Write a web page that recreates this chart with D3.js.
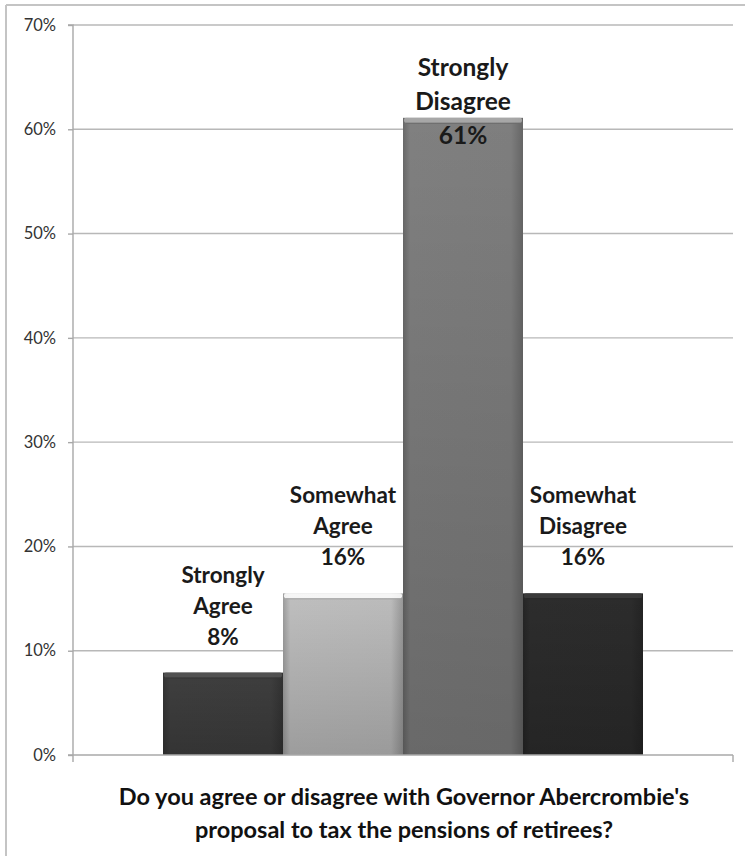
<!DOCTYPE html>
<html>
<head>
<meta charset="utf-8">
<script src="https://cdn.jsdelivr.net/npm/d3@7"></script>
<style>
  html, body { margin: 0; padding: 0; background: #fff; }
  svg { display: block; }
</style>
</head>
<body>
<svg id="chart" width="745" height="856"></svg>
<script>
// ---- data ----
const categories = ["Strongly Agree", "Somewhat Agree", "Strongly Disagree", "Somewhat Disagree"];
const labelLines = [["Strongly", "Agree"], ["Somewhat", "Agree"], ["Strongly", "Disagree"], ["Somewhat", "Disagree"]];
const values = [7.9, 15.5, 61.1, 15.5];
const valueLabels = ["8%", "16%", "61%", "16%"];
const yTicks = [0, 10, 20, 30, 40, 50, 60, 70];
const titleLines = ["Do you agree or disagree with Governor Abercrombie's", "proposal to tax the pensions of retirees?"];
const colors = ["#3e3e3e", "#bcbcbc", "#7e7e7e", "#2c2c2c"];

const svg = d3.select("#chart");
const plot = { left: 73, right: 733, top: 25, bottom: 755 };

const y = d3.scaleLinear().domain([0, 70]).range([plot.bottom, plot.top]);
const x = d3.scaleBand().domain(categories).range([163, 643]).padding(0);

// frame
svg.append("line").attr("x1", 6).attr("x2", 745).attr("y1", 5).attr("y2", 5)
  .attr("stroke", "#c4c4c4").attr("stroke-width", 2);
svg.append("line").attr("x1", 6).attr("x2", 6).attr("y1", 5).attr("y2", 856)
  .attr("stroke", "#c4c4c4").attr("stroke-width", 2);

// gridlines
svg.append("g").selectAll("line").data(yTicks.filter(d => d > 0)).join("line")
  .attr("x1", plot.left).attr("x2", plot.right)
  .attr("y1", d => y(d)).attr("y2", d => y(d))
  .attr("stroke", "#b8b8b8").attr("stroke-width", 1.4);

// y axis
const yAxis = d3.axisLeft(y).tickValues(yTicks).tickFormat(d => d + "%").tickSize(5).tickPadding(12);
const gy = svg.append("g").attr("transform", `translate(${plot.left},0)`).call(yAxis);
gy.select(".domain").attr("stroke", "#a8a8a8").attr("stroke-width", 1.4).attr("d", `M-5,${plot.top}H0V${plot.bottom + 7}`);
gy.selectAll(".tick line").attr("stroke", "#a8a8a8").attr("stroke-width", 1.4);
gy.selectAll(".tick text").attr("font-family", "Lato, 'Open Sans', sans-serif")
  .attr("font-size", 16.5).attr("fill", "#333");

// defs: gradients
const defs = svg.append("defs");
colors.forEach((c, i) => {
  const base = d3.color(c);
  const g = defs.append("linearGradient").attr("id", "g" + i).attr("x1", 0).attr("x2", 1).attr("y1", 0).attr("y2", 0);
  g.append("stop").attr("offset", "0%").attr("stop-color", base.darker(0.5));
  g.append("stop").attr("offset", "6%").attr("stop-color", base.brighter(0.05));
  g.append("stop").attr("offset", "90%").attr("stop-color", base);
  g.append("stop").attr("offset", "100%").attr("stop-color", base.darker(0.6));
  const gv = defs.append("linearGradient").attr("id", "v" + i).attr("x1", 0).attr("x2", 0).attr("y1", 0).attr("y2", 1);
  gv.append("stop").attr("offset", "0%").attr("stop-color", "#000").attr("stop-opacity", 0);
  gv.append("stop").attr("offset", "100%").attr("stop-color", "#000").attr("stop-opacity", 0.18);
});

// bars
const bars = svg.append("g");
categories.forEach((cat, i) => {
  const x0 = x(cat), w = x.bandwidth(), y0 = y(values[i]), h = y(0) - y(values[i]);
  bars.append("rect").attr("x", x0).attr("y", y0).attr("width", w).attr("height", h).attr("fill", `url(#g${i})`);
  bars.append("rect").attr("x", x0).attr("y", y0).attr("width", w).attr("height", h).attr("fill", `url(#v${i})`);
  // top bevel
  bars.append("rect").attr("x", x0 + 1).attr("y", y0).attr("width", w - 2).attr("height", 5)
    .attr("rx", 2).attr("fill", d3.color(colors[i]).brighter(0.9)).attr("opacity", 0.85);
  bars.append("line").attr("x1", x0 + 3).attr("x2", x0 + w - 3).attr("y1", y0 + 5.5).attr("y2", y0 + 5.5)
    .attr("stroke", d3.color(colors[i]).darker(0.4)).attr("stroke-width", 1);
});

// x axis baseline
svg.append("line").attr("x1", plot.left - 5).attr("x2", plot.right).attr("y1", plot.bottom).attr("y2", plot.bottom)
  .attr("stroke", "#a8a8a8").attr("stroke-width", 1.4);
svg.append("line").attr("x1", plot.right).attr("x2", plot.right).attr("y1", plot.bottom).attr("y2", plot.bottom + 7)
  .attr("stroke", "#a8a8a8").attr("stroke-width", 1.4);

// data labels
const labels = svg.append("g").attr("font-family", "Lato, 'Open Sans', sans-serif").attr("font-weight", 700)
  .attr("fill", "#1a1a1a").attr("text-anchor", "middle");
categories.forEach((cat, i) => {
  const big = values[i] > 50;
  const fs = big ? 24.5 : 22.5;
  const lh = big ? 34 : 31;
  const lines = labelLines[i].concat([valueLabels[i]]);
  let firstBase = y(values[i]) - 28 - lh * (lines.length - 1);
  firstBase = Math.max(firstBase, plot.top + 51);
  const cx = x(cat) + x.bandwidth() / 2;
  lines.forEach((t, j) => {
    labels.append("text").attr("x", cx).attr("y", firstBase + j * lh).attr("font-size", fs).text(t);
  });
});

// title
svg.append("g").selectAll("text").data(titleLines).join("text")
  .attr("x", 404).attr("y", (d, i) => 805 + i * 33)
  .attr("text-anchor", "middle")
  .attr("font-family", "Lato, 'Open Sans', sans-serif").attr("font-weight", 700)
  .attr("font-size", 23.5).attr("fill", "#111")
  .text(d => d);
</script>
</body>
</html>
